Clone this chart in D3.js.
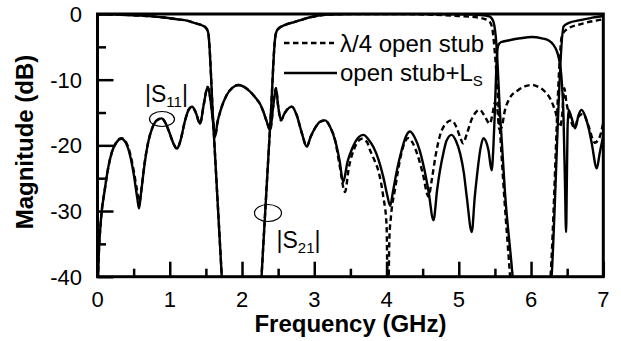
<!DOCTYPE html>
<html>
<head>
<meta charset="utf-8">
<script src="https://cdn.jsdelivr.net/npm/d3@7/dist/d3.min.js"></script>
<style>
  html, body { margin: 0; padding: 0; background: #fff; }
  svg { display: block; font-family: "Liberation Sans", Arial, sans-serif; }
</style>
</head>
<body>
<svg id="chart" width="621" height="341"></svg>
<script>
// Frequency response of the filter: [frequency (GHz), magnitude (dB)]
// |S11| for the stub with series inductance (solid)
const s11Ls = [
  [0,-42],[0.02,-36],[0.05,-31],[0.1,-26.8],[0.15,-23.3],[0.2,-21],[0.26,-19.6],[0.33,-19],
  [0.4,-19.8],[0.45,-21.5],[0.5,-24.3],[0.55,-28],[0.575,-29.6],[0.6,-27.5],[0.65,-23],
  [0.7,-19.6],[0.76,-17.3],[0.82,-16.2],[0.89,-15.9],[0.95,-16.8],[1.0,-18.2],[1.05,-19.7],
  [1.1,-20.5],[1.15,-19.2],[1.21,-16.3],[1.26,-14.6],[1.31,-14.1],[1.36,-15],[1.42,-16.7],
  [1.47,-13.8],[1.525,-11.1],[1.56,-12.8],[1.6,-16.5],[1.626,-18.7],[1.66,-16.5],[1.7,-14.8],
  [1.79,-12.3],[1.87,-11.2],[1.95,-10.8],[2.03,-11.1],[2.11,-11.8],[2.19,-12.8],[2.25,-13.7],
  [2.3,-15],[2.34,-16.3],[2.39,-17.7],[2.43,-14.2],[2.47,-11.3],[2.5,-14],[2.54,-16.2],
  [2.58,-15.3],[2.62,-14.6],[2.69,-14.1],[2.75,-15.2],[2.83,-18.2],[2.895,-20.2],[2.95,-18.7],
  [3.02,-17.2],[3.08,-16.4],[3.15,-16.2],[3.22,-17.2],[3.29,-19.3],[3.35,-22.3],[3.40,-25.6],
  [3.46,-22.5],[3.52,-20.6],[3.61,-18.8],[3.68,-18.4],[3.75,-19.1],[3.82,-20.3],[3.89,-22.2],
  [3.955,-24.8],[4.01,-27.6],[4.05,-29.2],[4.09,-27],[4.14,-24],[4.21,-20.7],[4.27,-18.6],
  [4.325,-17.9],[4.39,-18.8],[4.46,-20.8],[4.52,-23.5],[4.58,-26.9],[4.65,-31.4],[4.7,-26.8],
  [4.74,-23.8],[4.79,-21],[4.83,-19.3],[4.9,-18.4],[4.96,-19.3],[5.02,-21.3],[5.07,-24.2],
  [5.11,-27.8],[5.18,-33.2],[5.22,-28],[5.25,-24.8],[5.3,-20.5],[5.34,-18.9],[5.38,-19.5],
  [5.41,-20.7],[5.455,-23.8],[5.48,-20],[5.5,-14.6],[5.52,-8],[5.545,-4.8],[5.58,-4.3],
  [5.7,-4.0],[5.85,-3.7],[6.01,-3.5],[6.15,-3.7],[6.24,-4.0],[6.31,-4.7],[6.355,-5.6],
  [6.39,-7],[6.42,-9.5],[6.45,-16],[6.47,-26],[6.485,-33.2],[6.495,-26],[6.505,-17.5],
  [6.52,-14.6],[6.56,-15.8],[6.61,-17.4],[6.66,-15.3],[6.70,-14.6],[6.75,-15.6],[6.8,-17.5],
  [6.84,-19.7],[6.91,-23.5],[6.95,-21.2],[7.0,-18.5]
];

// |S11| for the plain quarter-wave open stub (dashed)
const s11Stub = [
  [0,-42],[0.02,-36],[0.05,-31],[0.1,-26.8],[0.15,-23.3],[0.2,-21],[0.26,-19.5],[0.33,-18.9],
  [0.4,-19.6],[0.45,-21.2],[0.5,-23.8],[0.55,-27],[0.58,-28.6],[0.61,-26.5],[0.65,-22.8],
  [0.7,-19.6],[0.76,-17.3],[0.82,-16.2],[0.89,-15.9],[0.95,-16.8],[1.0,-18.2],[1.05,-19.7],
  [1.1,-20.5],[1.15,-19.2],[1.21,-16.3],[1.26,-14.6],[1.31,-14.1],[1.36,-15],[1.42,-16.7],
  [1.47,-13.8],[1.525,-11.1],[1.56,-12.8],[1.6,-16.5],[1.626,-18.7],[1.66,-16.5],[1.7,-14.8],
  [1.79,-12.3],[1.87,-11.2],[1.95,-10.8],[2.03,-11.1],[2.11,-11.8],[2.19,-12.8],[2.25,-13.7],
  [2.3,-15],[2.34,-16.3],[2.39,-17.7],[2.43,-14.2],[2.47,-11.3],[2.5,-14],[2.54,-16.2],
  [2.58,-15.3],[2.62,-14.6],[2.69,-14.1],[2.75,-15.2],[2.83,-18.2],[2.895,-20.2],[2.95,-18.7],
  [3.02,-17.2],[3.08,-16.4],[3.15,-16.2],[3.22,-17.2],[3.29,-19.3],[3.35,-23],[3.425,-27.1],
  [3.48,-23.3],[3.55,-20.6],[3.66,-19],[3.73,-19.5],[3.77,-20.7],[3.83,-22.2],[3.89,-24],
  [3.955,-27.8],[4.0,-32],[4.02,-45],[4.04,-34],[4.06,-31],[4.12,-26.5],[4.2,-21.5],
  [4.25,-19.6],[4.30,-18.9],[4.36,-19.6],[4.43,-21.5],[4.5,-24.2],[4.58,-27.8],[4.63,-25],
  [4.68,-21.5],[4.74,-18.5],[4.82,-16.7],[4.9,-16.2],[4.97,-17.3],[5.02,-18.8],[5.06,-19.7],
  [5.11,-18.3],[5.18,-16.0],[5.24,-14.9],[5.29,-14.6],[5.35,-15.4],[5.43,-16.7],[5.47,-15],
  [5.5,-13.5],[5.53,-14.2],[5.56,-17.5],[5.59,-17.3],[5.64,-14.6],[5.7,-12.9],[5.82,-11.6],
  [5.92,-11],[6.01,-10.8],[6.1,-11.1],[6.19,-11.8],[6.27,-13],[6.33,-14.6],[6.4,-17.2],
  [6.43,-15.5],[6.46,-11.3],[6.49,-13.5],[6.54,-15.8],[6.6,-17.3],[6.66,-15.6],[6.72,-15.2],
  [6.8,-17.2],[6.88,-19.6],[6.94,-19],[7.0,-16.5]
];

// |S21| for the stub with series inductance (solid)
const s21Ls = [
  [0,0],[0.3,-0.1],[0.6,-0.25],[0.89,-0.5],[1.1,-0.8],[1.25,-1.05],[1.35,-1.4],[1.45,-1.75],
  [1.5,-2.1],[1.533,-2.9],[1.6,-16.2],[1.72,-40],[1.76,-48],[2.23,-48],[2.27,-40],[2.40,-15],
  [2.46,-3.5],[2.49,-2.4],[2.59,-1.7],[2.73,-1.2],[2.96,-0.45],[3.19,-0.1],[3.5,0],[4.5,0],
  [5.0,-0.05],[5.3,-0.15],[5.43,-0.4],[5.48,-1.2],[5.52,-4.5],[5.57,-15],[5.64,-27.3],
  [5.745,-40],[5.8,-48],[6.24,-48],[6.285,-40],[6.45,-1.9],[6.515,-1.4],[6.7,-0.9],
  [6.85,-0.55],[7.0,-0.3]
];

// |S21| for the plain quarter-wave open stub (dashed)
const s21Stub = [
  [0,0],[0.3,-0.1],[0.6,-0.25],[0.89,-0.5],[1.1,-0.8],[1.25,-1.05],[1.35,-1.4],[1.45,-1.75],
  [1.5,-2.1],[1.533,-2.9],[1.6,-16.2],[1.72,-40],[1.76,-48],[2.23,-48],[2.27,-40],[2.40,-15],
  [2.46,-3.5],[2.49,-2.4],[2.59,-1.7],[2.73,-1.2],[2.96,-0.45],[3.19,-0.1],[3.5,0],[4.2,0],
  [4.6,-0.1],[5.0,-0.3],[5.3,-0.6],[5.42,-1.1],[5.46,-2],[5.5,-6],[5.56,-16],[5.63,-28],
  [5.71,-40],[5.76,-48],[6.22,-48],[6.27,-40],[6.43,-3.2],[6.5,-2.3],[6.7,-1.5],[6.9,-1.0],
  [7.0,-0.8]
];

const xTicks = [0, 1, 2, 3, 4, 5, 6, 7];
const yTicks = [0, -10, -20, -30, -40];
const legendLabels = ["λ/4 open stub", "open stub+L"];

const svg = d3.select("#chart");
const plotLeft = 97.5, plotRight = 603.3, plotTop = 14, plotBottom = 276.7;

const x = d3.scaleLinear().domain([0, 7]).range([plotLeft, plotRight]);
const y = d3.scaleLinear().domain([-40, 0]).range([plotBottom, plotTop]);

svg.append("clipPath").attr("id", "plot-clip")
  .append("rect").attr("x", plotLeft).attr("y", plotTop)
  .attr("width", plotRight - plotLeft).attr("height", plotBottom - plotTop);

const line = d3.line()
  .x(d => x(d[0])).y(d => y(d[1]))
  .curve(d3.curveMonotoneX);

const curves = svg.append("g").attr("clip-path", "url(#plot-clip)");
const series = [
  { data: s11Stub, dash: "5.5,3.5" },
  { data: s21Stub, dash: "5.5,3.5" },
  { data: s11Ls, dash: null },
  { data: s21Ls, dash: null }
];
series.forEach(s => {
  curves.append("path")
    .attr("d", line(s.data))
    .attr("fill", "none")
    .attr("stroke", "#000")
    .attr("stroke-width", 2.4)
    .attr("stroke-linejoin", "round")
    .attr("stroke-dasharray", s.dash);
});

// Axes: inward ticks, major and half-step minor
const xAxis = d3.axisBottom(x).tickValues(d3.range(0, 7.01, 0.5))
  .tickSize(0).tickFormat("");
const gx = svg.append("g").attr("transform", `translate(0,${plotBottom})`).call(xAxis);
gx.select(".domain").remove();
gx.selectAll(".tick line")
  .attr("y2", d => Number.isInteger(d) ? -15 : -8)
  .attr("stroke", "#000").attr("stroke-width", 2.5);

const yAxis = d3.axisLeft(y).tickValues(d3.range(-40, 0.01, 5))
  .tickSize(0).tickFormat("");
const gy = svg.append("g").attr("transform", `translate(${plotLeft},0)`).call(yAxis);
gy.select(".domain").remove();
gy.selectAll(".tick line")
  .attr("x2", d => d % 10 === 0 ? 16 : 8.5)
  .attr("stroke", "#000").attr("stroke-width", 2.5);

// Frame
svg.append("rect")
  .attr("x", plotLeft).attr("y", plotTop)
  .attr("width", plotRight - plotLeft).attr("height", plotBottom - plotTop)
  .attr("fill", "none").attr("stroke", "#000").attr("stroke-width", 3);

// Tick labels
svg.append("g").selectAll("text").data(xTicks).join("text")
  .attr("x", d => x(d)).attr("y", 306.5)
  .attr("text-anchor", "middle").attr("font-size", 22)
  .text(d => d);
svg.append("g").selectAll("text").data(yTicks).join("text")
  .attr("x", 82).attr("y", d => y(d) + 8)
  .attr("text-anchor", "end").attr("font-size", 22)
  .text(d => d);

// Axis titles
svg.append("text")
  .attr("x", (plotLeft + plotRight) / 2).attr("y", 331.5)
  .attr("text-anchor", "middle").attr("font-size", 24).attr("font-weight", "bold")
  .text("Frequency (GHz)");
svg.append("text")
  .attr("transform", "translate(33,142) rotate(-90)")
  .attr("text-anchor", "middle").attr("font-size", 24).attr("font-weight", "bold")
  .text("Magnitude (dB)");

// Legend
const legend = svg.append("g");
legend.append("line").attr("x1", 284).attr("x2", 334).attr("y1", 43).attr("y2", 43)
  .attr("stroke", "#000").attr("stroke-width", 2.4).attr("stroke-dasharray", "5.5,3.5");
legend.append("line").attr("x1", 284).attr("x2", 337).attr("y1", 73).attr("y2", 73)
  .attr("stroke", "#000").attr("stroke-width", 2.4);
legend.append("text").attr("x", 340).attr("y", 51.5).attr("font-size", 24)
  .text(legendLabels[0]);
const lt = legend.append("text").attr("x", 340).attr("y", 81).attr("font-size", 24);
lt.append("tspan").text(legendLabels[1]);
lt.append("tspan").attr("font-size", 15).attr("dy", 5).text("S");

// Curve annotations
function magLabel(xp, yp, sub) {
  const t = svg.append("text").attr("x", xp).attr("y", yp).attr("font-size", 23);
  t.append("tspan").text("|S");
  t.append("tspan").attr("font-size", 15).attr("dy", 5).text(sub);
  t.append("tspan").attr("dy", -5).text("|");
}
magLabel(145, 101.5, "11");
magLabel(276.5, 248, "21");

svg.append("ellipse").attr("cx", 162).attr("cy", 119).attr("rx", 12.5).attr("ry", 7.5)
  .attr("fill", "none").attr("stroke", "#000").attr("stroke-width", 1.2);
svg.append("ellipse").attr("cx", 268).attr("cy", 213).attr("rx", 13.5).attr("ry", 8.5)
  .attr("fill", "none").attr("stroke", "#000").attr("stroke-width", 1.2);
</script>
</body>
</html>
